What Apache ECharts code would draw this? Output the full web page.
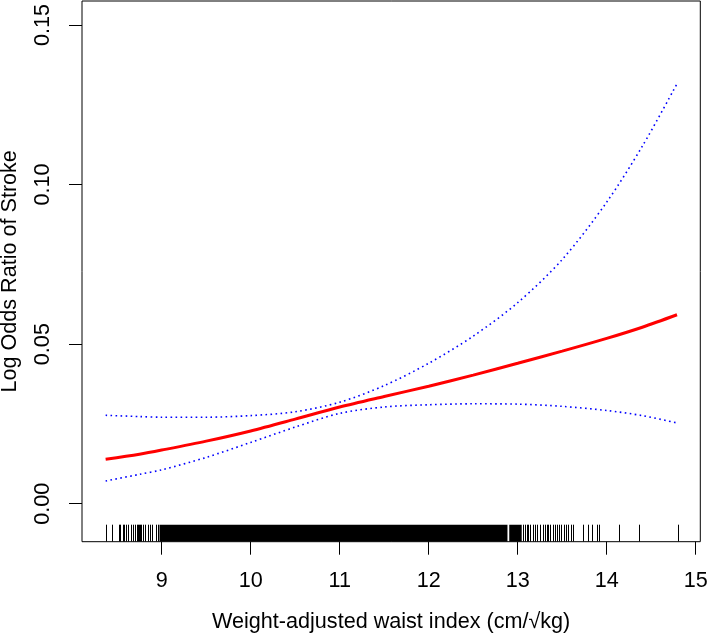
<!DOCTYPE html>
<html>
<head>
<meta charset="utf-8">
<script src="https://cdn.jsdelivr.net/npm/echarts@6/dist/echarts.min.js"></script>
<style>
html,body{margin:0;padding:0;background:#fff;}
#chart{width:708px;height:641px;}
</style>
</head>
<body>
<div id="chart"></div>
<script>
// ---- data ----
var xValues = [8.37, 8.75, 9.0, 9.5, 10.0, 10.5, 11.0, 11.5, 12.0, 12.5, 13.0, 13.5, 14.0, 14.4, 14.79];
var logOR   = [0.0139, 0.0155, 0.0168, 0.0196, 0.0228, 0.0265, 0.0303, 0.0336, 0.0368, 0.0403, 0.0440, 0.0478, 0.0518, 0.0553, 0.0592];
var upperCI = [0.0277, 0.0273, 0.0271, 0.0271, 0.0276, 0.0288, 0.0318, 0.0370, 0.0440, 0.0525, 0.0630, 0.0765, 0.0945, 0.1120, 0.1316];
var lowerCI = [0.0071, 0.0092, 0.0106, 0.0145, 0.0192, 0.0240, 0.0283, 0.0303, 0.0310, 0.0313, 0.0312, 0.0305, 0.0292, 0.0276, 0.0253];
var rugTicks = [8.371, 8.445, 8.517, 8.535, 8.562, 8.580, 8.602, 8.625, 8.652, 8.678, 8.697,
  8.722, 8.734, 8.745, 8.756, 8.767, 8.793, 8.816, 8.843, 8.869, 8.894, 8.933, 8.962,
  13.056, 13.079, 13.101, 13.119, 13.138, 13.169, 13.194, 13.213, 13.250, 13.281, 13.307,
  13.326, 13.344, 13.363, 13.393, 13.419, 13.438, 13.464, 13.490, 13.517, 13.543, 13.569,
  13.596, 13.618, 13.730, 13.787, 13.838, 13.888, 13.914, 14.142, 14.366, 14.798];
var rugDenseRanges = [[8.975, 12.885], [12.905, 13.045]];
var xTickValues = [9, 10, 11, 12, 13, 14, 15];
var yTickValues = [0, 0.05, 0.10, 0.15];
var xTitle = 'Weight-adjusted waist index (cm/\u221Akg)';
var yTitle = 'Log Odds Ratio of Stroke';

var X_MIN = 8.1045, X_MAX = 15.0517, Y_MIN = -0.01191, Y_MAX = 0.15752;
var FONT = 'Liberation Sans, Arial, Helvetica, sans-serif';
var FS = 21.6;

function pairs(ys){ return xValues.map(function(x,i){ return [x, ys[i]]; }); }

var chart = echarts.init(document.getElementById('chart'), null, {renderer:'canvas'});
chart.setOption({
  animation: false,
  backgroundColor: '#fff',
  grid: {left: 82, top: 1, width: 618.3, height: 540.7, containLabel: false, outerBoundsMode: 'none',
    show: true, borderColor: '#000', borderWidth: 1, backgroundColor: 'transparent'},
  xAxis: {
    type: 'value', min: X_MIN, max: X_MAX,
    name: xTitle, nameLocation: 'middle', nameGap: 69,
    nameTextStyle: {fontFamily: FONT, fontSize: FS, color: '#000'},
    axisLine: {show: false, onZero: false},
    axisTick: {show: true, inside: false, length: 13, lineStyle: {color: '#000', width: 1}, customValues: xTickValues},
    axisLabel: {fontFamily: FONT, fontSize: FS, color: '#000', margin: 28, customValues: xTickValues,
      formatter: function(v){ return String(Math.round(v)); }},
    splitLine: {show: false}
  },
  yAxis: {
    type: 'value', min: Y_MIN, max: Y_MAX,
    name: yTitle, nameLocation: 'middle', nameGap: 61, nameRotate: 90,
    nameTextStyle: {fontFamily: FONT, fontSize: FS, color: '#000'},
    axisLine: {show: false, onZero: false},
    axisTick: {show: true, inside: false, length: 13, lineStyle: {color: '#000', width: 1}, customValues: yTickValues},
    axisLabel: {fontFamily: FONT, fontSize: FS, color: '#000', margin: 28, rotate: 90, customValues: yTickValues,
      formatter: function(v){ return v.toFixed(2); }},
    splitLine: {show: false}
  },
  series: [
    {
      type: 'custom', name: 'rugDense', silent: true, clip: true,
      data: rugDenseRanges,
      renderItem: function(params, api){
        var a = api.coord([api.value(0), Y_MIN]);
        var b = api.coord([api.value(1), Y_MIN]);
        return {type: 'rect', shape: {x: a[0], y: a[1] - 17, width: b[0] - a[0], height: 17}, style: {fill: '#000'}};
      }
    },
    {
      type: 'custom', name: 'rug', silent: true, clip: true,
      data: rugTicks.map(function(v){ return [v]; }),
      renderItem: function(params, api){
        var p = api.coord([api.value(0), Y_MIN]);
        var x = Math.round(p[0]) + 0.5;
        return {type: 'line', shape: {x1: x, y1: p[1], x2: x, y2: p[1] - 17}, style: {stroke: '#000', lineWidth: 1}};
      }
    },
    {
      type: 'line', name: 'upper', data: pairs(upperCI), smooth: 0.3, showSymbol: false,
      lineStyle: {color: '#0000ff', width: 1.6, type: [1.6, 3.4]}
    },
    {
      type: 'line', name: 'lower', data: pairs(lowerCI), smooth: 0.3, showSymbol: false,
      lineStyle: {color: '#0000ff', width: 1.6, type: [1.6, 3.4]}
    },
    {
      type: 'line', name: 'logOR', data: pairs(logOR), smooth: 0.3, showSymbol: false,
      lineStyle: {color: '#ff0000', width: 3}
    }
  ]
});
</script>
</body>
</html>
